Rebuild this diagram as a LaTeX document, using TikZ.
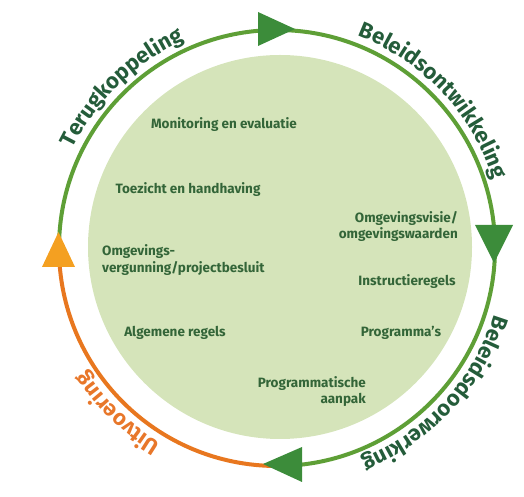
\documentclass[tikz,border=0pt]{standalone}
\usepackage{fontspec}
\setmainfont{Fira Sans}
\usetikzlibrary{decorations.text}
\definecolor{ringgreen}{HTML}{5E9F36}
\definecolor{arrowgreen}{HTML}{3C8C3A}
\definecolor{ringorange}{HTML}{E8771F}
\definecolor{arroworange}{HTML}{F4A021}
\definecolor{innerfill}{HTML}{D5E4BA}
\definecolor{labelgreen}{HTML}{245C3A}
\definecolor{itemgreen}{HTML}{336538}
\definecolor{labelorange}{HTML}{E8772A}
\tikzset{
  item/.style={font=\bfseries\fontsize{13.5}{16.5}\selectfont, text=itemgreen, inner sep=0pt},
  ringline/.style={line width=4pt},
  arclabel/.style={decorate, decoration={text along path, text align=center,
      text={|\bfseries\fontsize{22}{22}\selectfont|#1}}},
}
\begin{document}
\begin{tikzpicture}[x=1pt,y=1pt]
\useasboundingbox (0,0) rectangle (524,497);
\coordinate (C) at (277,249);
\node[circle, fill=innerfill, minimum size=384pt, inner sep=0pt] (disc) at (280,250) {};
% ring
\draw[ringline, ringgreen] (C) ++(180:218) arc[start angle=180, end angle=-90, radius=218];
\draw[ringline, ringorange] (C) ++(270:218) arc[start angle=270, end angle=180, radius=218];
% arrowheads
\fill[arrowgreen] (258,485) -- (295,468) -- (258,451) -- cycle;
\fill[arrowgreen] (475,272) -- (494,234) -- (513,272) -- cycle;
\fill[arrowgreen] (302,50) -- (263,33) -- (302,15) -- cycle;
\fill[arroworange] (42,230) -- (58.5,265) -- (75,230) -- cycle;
% arc labels
\path[arclabel=Terugkoppeling, decoration={text color=labelgreen}]
  (C) ++(184:227) arc[start angle=184, end angle=84, radius=227];
\path[arclabel=Beleidsontwikkeling, decoration={text color=labelgreen}]
  (C) ++(93.3:227) arc[start angle=93.3, end angle=-6.7, radius=227];
\path[arclabel=Beleidsdoorwerking, decoration={text color=labelgreen}]
  (C) ++(7.4:227) arc[start angle=7.4, end angle=-92.6, radius=227];
\path[arclabel=Uitvoering, decoration={text color=labelorange}]
  (C) ++(276:227) arc[start angle=276, end angle=176, radius=227];
% inner items
\node[item] (mon) at (224,372) {Monitoring en evaluatie};
\node[item] (toe) at (188,307) {Toezicht en handhaving};
\node[item, anchor=west, align=left] (ovg) at (102,237) {Omgevings-\\vergunning/projectbesluit};
\node[item] (alg) at (175,164) {Algemene regels};
\node[item, anchor=east, align=right] (ovi) at (458,270.5) {Omgevingsvisie/\\omgevingswaarden};
\node[item] (ins) at (407,215) {Instructieregels};
\node[item] (prg) at (401,164) {Programma’s};
\node[item, anchor=east, align=right] (pga) at (366,105.5) {Programmatische\\aanpak};
\end{tikzpicture}
\end{document}
